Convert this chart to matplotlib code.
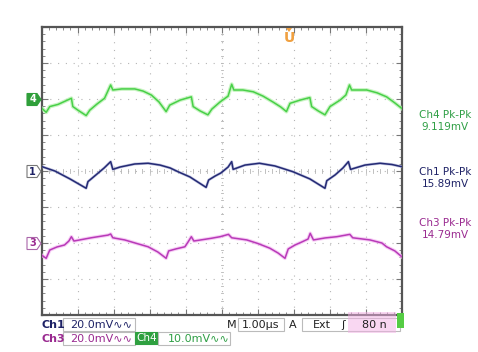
import matplotlib
matplotlib.use("Agg")
import matplotlib.pyplot as plt
from matplotlib.patches import Rectangle, Polygon

# Scope settings
ch_names = ["Ch4", "Ch1", "Ch3"]
ch_scale_mv = [10.0, 20.0, 20.0]      # mV/div
ch_position = [2.0, 0.0, -2.0]        # divisions
ch_pkpk = ["9.119mV", "15.89mV", "14.79mV"]
time_per_div = "1.00\u00b5s"

# Ch4 trace (time in us, voltage in mV)
ch4_t = [0.00, 0.13, 0.23, 0.46, 0.83, 0.87, 1.01, 1.24, 1.34, 1.54, 1.75, 1.92,
         1.98, 2.23, 2.59, 2.82, 3.05, 3.26, 3.46, 3.56, 3.85, 4.16, 4.21, 4.40,
         4.62, 4.73, 4.96, 5.18, 5.28, 5.34, 5.59, 5.88, 6.15, 6.42, 6.64, 6.80,
         6.90, 7.18, 7.45, 7.50, 7.68, 7.87, 8.01, 8.29, 8.45, 8.55, 8.61, 9.03,
         9.32, 9.58, 9.81, 10.0]
ch4_mv = [-2.5, -3.7, -2.1, -1.5, 0.2, -2.1, -3.1, -4.6, -3.1, -1.4, 0.2, 3.9,
          2.5, 2.8, 2.8, 2.2, 1.1, -0.8, -3.5, -1.7, -0.3, 0.6, -2.1, -3.3,
          -4.4, -2.8, -0.8, 0.8, 4.1, 2.5, 2.5, 2.0, 0.8, -0.8, -2.2, -3.5,
          -1.2, -0.3, 0.4, -2.1, -3.3, -4.4, -2.1, -0.3, 1.1, 3.9, 2.5, 2.5,
          1.7, 0.6, -1.1, -2.6]

# Ch1 trace
ch1_t = [0.00, 0.37, 0.79, 1.24, 1.29, 1.51, 1.74, 1.92, 1.98, 2.18, 2.59, 2.96,
         3.29, 3.57, 3.79, 4.12, 4.57, 4.64, 4.82, 4.98, 5.18, 5.28, 5.32, 5.65,
         6.05, 6.48, 6.98, 7.45, 7.87, 7.92, 8.15, 8.37, 8.52, 8.58, 8.98, 9.40,
         9.73, 10.0]
ch1_mv = [2.5, 0.0, -4.4, -9.6, -5.9, -2.2, 1.7, 5.2, 0.9, 2.2, 3.9, 4.3,
          3.3, 1.7, -0.4, -3.3, -9.1, -5.0, -2.8, -1.1, 2.2, 5.2, 0.9, 3.3,
          4.3, 2.8, -0.4, -4.4, -9.6, -5.4, -2.2, 1.7, 5.2, 0.9, 3.3, 4.3,
          3.6, 2.4]

# Ch3 trace
ch3_t = [0.00, 0.13, 0.23, 0.43, 0.64, 0.76, 0.83, 0.90, 1.38, 1.85, 1.92, 1.98,
         2.31, 2.65, 2.96, 3.23, 3.46, 3.53, 3.73, 3.98, 4.07, 4.16, 4.23, 4.71,
         4.96, 5.19, 5.28, 5.70, 6.01, 6.34, 6.57, 6.76, 6.85, 7.04, 7.23, 7.40,
         7.46, 7.55, 7.87, 8.20, 8.56, 8.64, 9.12, 9.45, 9.58, 9.81, 10.0]
ch3_mv = [-6.7, -8.5, -3.9, -2.2, -1.1, 1.1, 3.5, 1.1, 2.9, 4.4, 5.0, 2.9,
          1.7, -0.3, -2.1, -5.0, -8.5, -4.4, -3.3, -2.1, 0.6, 3.5, 1.1, 2.6,
          3.5, 4.8, 2.9, 1.7, -0.3, -2.9, -5.6, -8.5, -3.3, -1.1, 0.6, 2.2,
          5.4, 1.7, 2.8, 3.5, 4.8, 2.9, 1.7, 0.0, -2.1, -4.4, -7.6]

W, H = 478, 352
fig = plt.figure(figsize=(W / 100, H / 100), dpi=100)
fig.patch.set_facecolor("white")


def fx(x):
    return x / W


def fy(y):
    return 1 - y / H


left, right, top, bottom = 41.5, 401.7, 27, 315
ax = fig.add_axes([fx(left), fy(bottom), (right - left) / W, (bottom - top) / H])
ax.set_xlim(0, 10)
ax.set_ylim(-4, 4)
ax.set_facecolor("white")

# graticule
for gx in range(1, 10):
    ax.axvline(gx, color="#b5b5b5", lw=0.8, linestyle=(0, (1, 6)), zorder=1)
for gy in range(-3, 4):
    ax.axhline(gy, color="#b5b5b5", lw=0.8, linestyle=(0, (1, 6)), zorder=1)
for k in range(1, 50):
    v = k * 0.2
    ax.plot([v, v], [-0.05, 0.05], color="#b5b5b5", lw=0.6, zorder=1)
for k in range(1, 40):
    v = -4 + k * 0.2
    ax.plot([4.97, 5.03], [v, v], color="#b5b5b5", lw=0.6, zorder=1)

ax.set_xticks(range(0, 11))
ax.set_yticks(range(-4, 5))
ax.set_xticks([k * 0.2 for k in range(51)], minor=True)
ax.set_yticks([-4 + k * 0.2 for k in range(41)], minor=True)
ax.tick_params(which="both", direction="in", top=True, right=True,
               labelbottom=False, labelleft=False, color="#777777")
ax.tick_params(which="major", length=4, width=0.8)
ax.tick_params(which="minor", length=2.5, width=0.6)
for s in ax.spines.values():
    s.set_color("#555555")
    s.set_linewidth(1.6)

# traces
traces = [(ch4_t, ch4_mv, "#b4f0ac", "#48d048", 2.8, 0),
          (ch1_t, ch1_mv, "#a8acd4", "#242a74", 2.0, 1),
          (ch3_t, ch3_mv, "#f4b8f2", "#b83ab8", 2.6, 2)]
for t, mv, glow, col, gw, i in traces:
    y = [ch_position[i] + v / ch_scale_mv[i] for v in mv]
    ax.plot(t, y, color=glow, lw=gw, alpha=0.7, zorder=3, solid_joinstyle="round")
    ax.plot(t, y, color=col, lw=1.1, zorder=4, solid_joinstyle="round")

# trigger marker
ax.text(fx(289), fy(38), "U", transform=fig.transFigure, color="#f0a040",
        fontsize=10, fontweight="bold", ha="center", va="center")
fig.patches.append(Polygon([[fx(286), fy(28)], [fx(292), fy(28)], [fx(289), fy(32)]],
                           closed=True, transform=fig.transFigure,
                           facecolor="#f0a040", edgecolor="none"))

# channel markers on left
marker_y = [99.5, 171.5, 243.5]
marker_face = ["#2f9f3a", "white", "white"]
marker_edge = ["#2f9f3a", "#777777", "#aa66aa"]
marker_txt = ["white", "#1e2266", "#9a2a90"]
marker_lbl = ["4", "1", "3"]
for i in range(3):
    my = marker_y[i]
    pts = [[fx(27), fy(my - 6)], [fx(37), fy(my - 6)], [fx(41), fy(my)],
           [fx(37), fy(my + 6)], [fx(27), fy(my + 6)]]
    fig.patches.append(Polygon(pts, closed=True, transform=fig.transFigure,
                               facecolor=marker_face[i], edgecolor=marker_edge[i], lw=0.8))
    fig.text(fx(32.5), fy(my), marker_lbl[i], color=marker_txt[i], fontsize=7,
             fontweight="bold", ha="center", va="center")

# Pk-Pk readouts on the right
read_col = ["#2f9f45", "#1e2266", "#9a2a90"]
read_y = [115, 172, 223]
for i in range(3):
    fig.text(fx(445), fy(read_y[i]), ch_names[i] + " Pk-Pk", color=read_col[i],
             fontsize=7.5, ha="center", va="center")
    fig.text(fx(445), fy(read_y[i] + 12), ch_pkpk[i], color=read_col[i],
             fontsize=7.5, ha="center", va="center")


# status line
def box(x0, y0, x1, y1, face="white", edge="#bbbbbb"):
    fig.patches.append(Rectangle((fx(x0), fy(y1)), fx(x1) - fx(x0), fy(y0) - fy(y1),
                                 transform=fig.transFigure, facecolor=face,
                                 edgecolor=edge, lw=0.8))


bw = "\u223f\u223f"
box(63, 318, 135, 331)
box(238, 318, 284, 331)
box(302, 318, 400, 331)
box(63, 332, 135, 345)
box(135, 332, 158, 344, face="#2fa040", edge="#2fa040")
box(158, 332, 230, 345)

fig.text(fx(41), fy(325), "Ch1", color="#1e2266", fontsize=8, fontweight="bold", va="center")
fig.text(fx(70), fy(325), "20.0mV" + bw, color="#1e2266", fontsize=8, va="center")
fig.text(fx(236), fy(325), "M", color="#222222", fontsize=8, ha="right", va="center")
fig.text(fx(242), fy(325), time_per_div, color="#222222", fontsize=8, va="center")
fig.text(fx(293), fy(325), "A", color="#222222", fontsize=8, ha="center", va="center")
fig.text(fx(313), fy(325), "Ext", color="#222222", fontsize=8, va="center")
fig.text(fx(343), fy(325), "\u0283", color="#222222", fontsize=8, ha="center", va="center")
fig.text(fx(362), fy(325), "80 n", color="#222222", fontsize=8, va="center")
fig.patches.append(Rectangle((fx(348), fy(333)), fx(396) - fx(348), fy(312) - fy(333),
                             transform=fig.transFigure, facecolor="#f4b0e6",
                             edgecolor="none", alpha=0.5))
fig.patches.append(Rectangle((fx(397), fy(328)), fx(404) - fx(397), fy(313) - fy(328),
                             transform=fig.transFigure, facecolor="#55cc44",
                             edgecolor="none"))

fig.text(fx(41), fy(338.5), "Ch3", color="#9a2a90", fontsize=8, fontweight="bold", va="center")
fig.text(fx(70), fy(338.5), "20.0mV" + bw, color="#9a2a90", fontsize=8, va="center")
fig.text(fx(146.5), fy(338), "Ch4", color="white", fontsize=7.5, ha="center", va="center")
fig.text(fx(168), fy(338.5), "10.0mV" + bw, color="#2f9f45", fontsize=8, va="center")

fig.savefig("out.png", dpi=100, facecolor="white")
